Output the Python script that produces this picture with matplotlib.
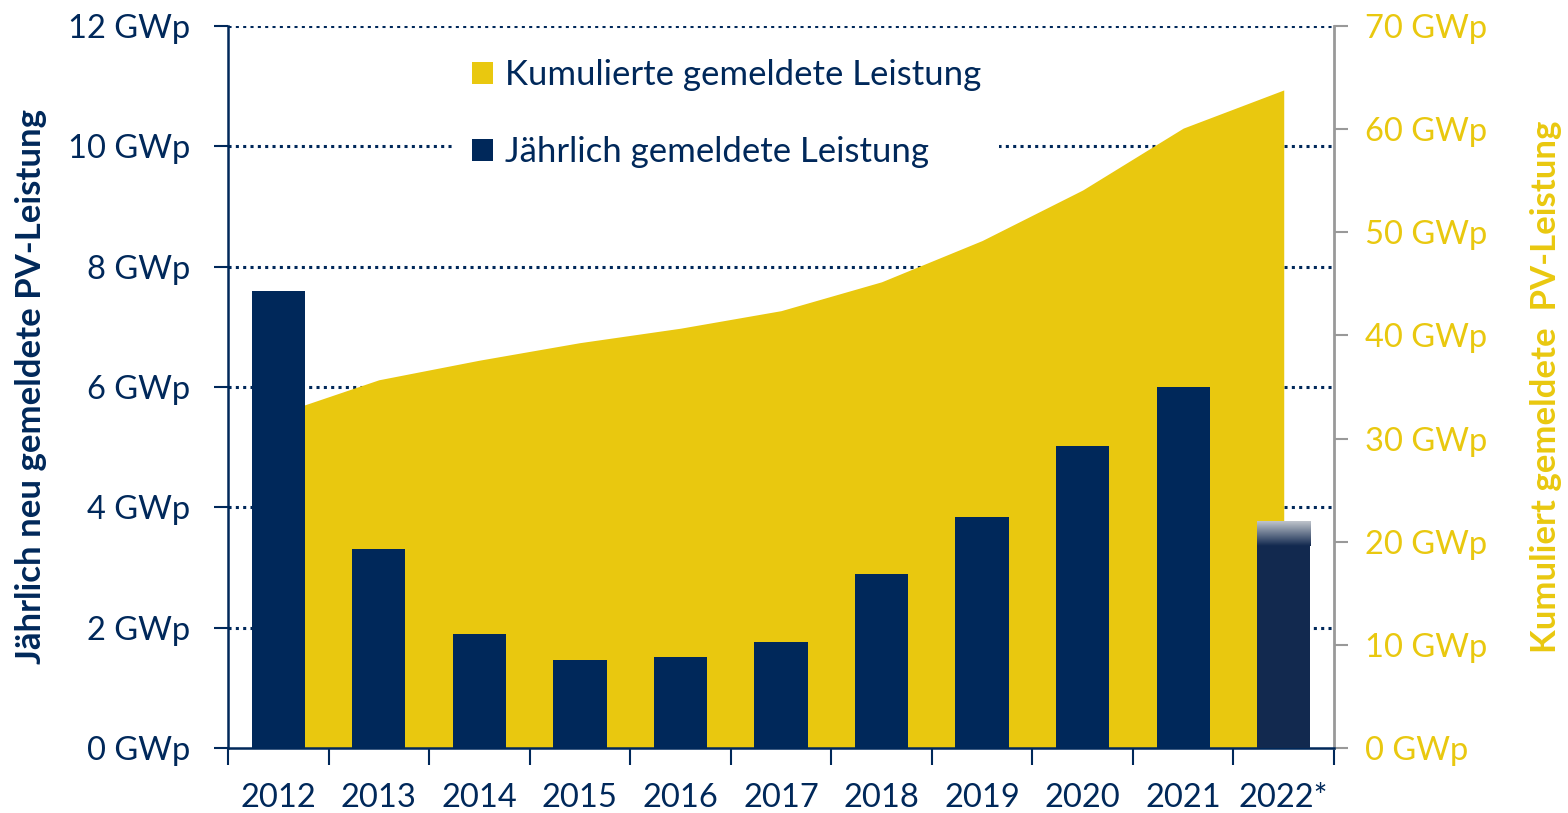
import matplotlib.pyplot as plt
import numpy as np
from matplotlib.patches import Patch

# Daten
years = ["2012", "2013", "2014", "2015", "2016", "2017", "2018", "2019", "2020", "2021", "2022*"]
annual = [7.6, 3.31, 1.89, 1.46, 1.51, 1.76, 2.89, 3.84, 5.02, 6.0, 3.76]
cumulative = [32.4, 35.7, 37.6, 39.3, 40.7, 42.4, 45.2, 49.2, 54.1, 60.1, 63.8]
left_ticks = [0, 2, 4, 6, 8, 10, 12]
right_ticks = [0, 10, 20, 30, 40, 50, 60, 70]

navy = "#00285A"
navy_dark = "#12294F"
yellow = "#E9C80F"
grey = "#999999"

plt.rcParams["font.family"] = ["Lato", "DejaVu Sans"]
fs = 23.5

fig = plt.figure(figsize=(15.68, 8.13), dpi=100)
ax2 = fig.add_axes([228 / 1568, 1 - 748 / 813, (1334 - 228) / 1568, (748 - 26) / 813])
ax = ax2.twinx()
ax.yaxis.tick_left()
ax.yaxis.set_label_position("left")
ax2.yaxis.tick_right()
ax2.yaxis.set_label_position("right")
ax.set_zorder(ax2.get_zorder() + 1)
ax.patch.set_visible(False)

x = np.arange(len(years))

# Gitterlinien (linke Achse) hinter der Fläche
for v in left_ticks[1:]:
    ax2.axhline(v * 70 / 12, color=navy, linestyle=(0, (1, 1.4)), linewidth=2.2, zorder=0)

# Kumulierte Leistung als Fläche
ax2.fill_between(x, cumulative, 0, color=yellow, linewidth=0, zorder=1)
ax2.set_ylim(0, 70)
ax2.set_yticks(right_ticks)
ax2.set_yticklabels([f"{v} GWp" for v in right_ticks], color=yellow, fontsize=fs)
ax2.set_ylabel("Kumuliert gemeldete  PV-Leistung", color=yellow, fontsize=25,
               fontweight="bold", labelpad=31)

# Jährliche Leistung als Balken
colors = [navy] * (len(years) - 1) + [navy_dark]
bars = ax.bar(x, annual, width=0.53, color=colors, zorder=3)

# Verlauf oben am letzten Balken
last = bars[-1]
grad = np.linspace(0, 1, 100).reshape(-1, 1)
top_rgb = np.array([0.75, 0.77, 0.80])
bot_rgb = np.array([0x12, 0x29, 0x4F]) / 255
img = top_rgb * (1 - grad[..., None]) + bot_rgb * grad[..., None]
img = img.reshape(100, 1, 3)
ax.imshow(img, extent=[last.get_x(), last.get_x() + last.get_width(), annual[-1] - 0.4, annual[-1]],
          aspect="auto", zorder=4, interpolation="bilinear")

ax.set_xlim(-0.5, len(years) - 0.5)
ax.set_ylim(0, 12)
ax.set_yticks(left_ticks)
ax.set_yticklabels([f"{v} GWp" for v in left_ticks], color=navy, fontsize=fs)
ax.set_ylabel("Jährlich neu gemeldete PV-Leistung", color=navy, fontsize=25,
              fontweight="bold", labelpad=15)

ax2.set_xticks(np.arange(len(years) + 1) - 0.5)
ax2.set_xticklabels([])
ax2.set_xticks(x, minor=True)
ax2.set_xticklabels(years, minor=True, color=navy, fontsize=fs)
ax2.tick_params(axis="x", which="major", length=12, width=1.5, color=navy)
ax2.tick_params(axis="x", which="minor", length=0, pad=25)
ax.tick_params(axis="x", which="both", bottom=False, labelbottom=False)

ax.tick_params(axis="y", length=10, width=1.5, color=navy, pad=17)
ax2.tick_params(axis="y", length=10, width=1.5, color=grey, pad=12)

for a in (ax, ax2):
    a.spines["top"].set_visible(False)
ax.spines["left"].set_color(navy)
ax.spines["left"].set_linewidth(1.8)
ax.spines["right"].set_visible(False)
ax.spines["bottom"].set_visible(False)
ax2.spines["left"].set_visible(False)
ax2.spines["right"].set_color(grey)
ax2.spines["right"].set_linewidth(2)
ax2.spines["bottom"].set_color(navy)
ax2.spines["bottom"].set_linewidth(1.8)

handles = [Patch(facecolor=yellow, label="Kumulierte gemeldete Leistung"),
           Patch(facecolor=navy, label="Jährlich gemeldete Leistung")]
leg = ax.legend(handles=handles, loc="upper left", bbox_to_anchor=(455 / 1568, 1 - 42 / 813),
                bbox_transform=fig.transFigure, fontsize=25, frameon=True, facecolor="white",
                edgecolor="none", framealpha=1, fancybox=False, handlelength=0.6,
                handleheight=0.6, handletextpad=0.35, labelspacing=1.3, borderpad=0.5,
                borderaxespad=0)
for t in leg.get_texts():
    t.set_color(navy)

fig.savefig("out.png", dpi=100)
